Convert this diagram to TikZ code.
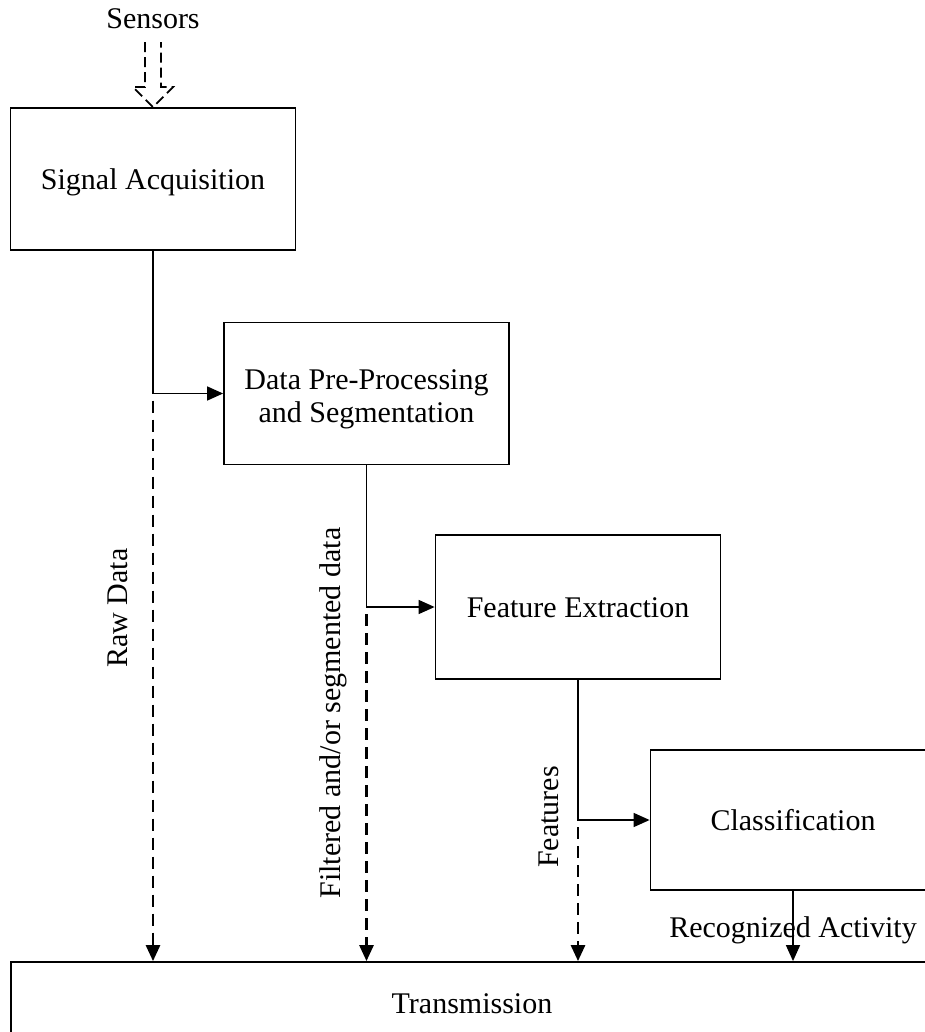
\documentclass[tikz,border=0pt]{standalone}
\usepackage{fontspec}
\setmainfont{Liberation Serif}
\usetikzlibrary{arrows.meta,calc}

\begin{document}
\begin{tikzpicture}[x=1pt,y=-1pt,
  font=\fontsize{30pt}{29pt}\selectfont,
  stage/.style={draw, line width=1.8pt, minimum width=285pt, minimum height=142pt, align=center, inner sep=0pt, text height=22pt, text depth=1pt},
  flow/.style={line width=1.5pt, -{Triangle[length=16pt,width=14pt]}},
  rawflow/.style={line width=2.7pt, dash pattern=on 12pt off 7pt, -{Triangle[length=16pt,width=14pt]}},
  vlabel/.style={rotate=90, anchor=base, inner sep=0pt}]

\useasboundingbox (0,0) rectangle (924,1032);

\node[anchor=base] (sensors) at (153,29) {Sensors};

\node[stage] (sig) at (153,179) {Signal Acquisition};
\node[stage, font=\fontsize{30pt}{33pt}\selectfont, text height=57pt, text depth=0pt] (data) at (366.5,393.5) {Data Pre-Processing\\and Segmentation};
\node[stage, minimum height=144pt] (feat) at (578,607) {Feature Extraction};
\node[stage, minimum height=140pt] (cls) at (793,820) {Classification};
\node[stage, minimum width=922pt, minimum height=82pt] (trans) at (472,1003) {Transmission};

\draw[line width=1.7pt, dash pattern=on 10pt off 5pt] ($(sig.north)+(-8,-65)$) -- ++(0,45) -- ++(-12,0) -- (sig.north) -- ++(20,-20) -- ++(-12,0) -- ++(0,-45);

\draw[flow] (sig.south) |- (data.west);
\draw[flow] (data.south) |- (feat.west);
\draw[flow] (feat.south) |- (cls.west);
\draw[flow] (cls.south) -- (cls.south |- trans.north);

\draw[rawflow] ($(sig.south |- data.west)+(0,7)$) -- (sig.south |- trans.north);
\draw[rawflow] ($(data.south |- feat.west)+(0,7)$) -- (data.south |- trans.north);
\draw[rawflow] ($(feat.south |- cls.west)+(0,7)$) -- (feat.south |- trans.north);

\node[vlabel] (rawlbl) at (127,608) {Raw Data};
\node[vlabel] (filtlbl) at (340,713) {Filtered and/or segmented data};
\node[vlabel] (featlbl) at (558,817) {Features};
\node[anchor=base] (recog) at (793,937) {Recognized Activity};

\end{tikzpicture}
\end{document}
